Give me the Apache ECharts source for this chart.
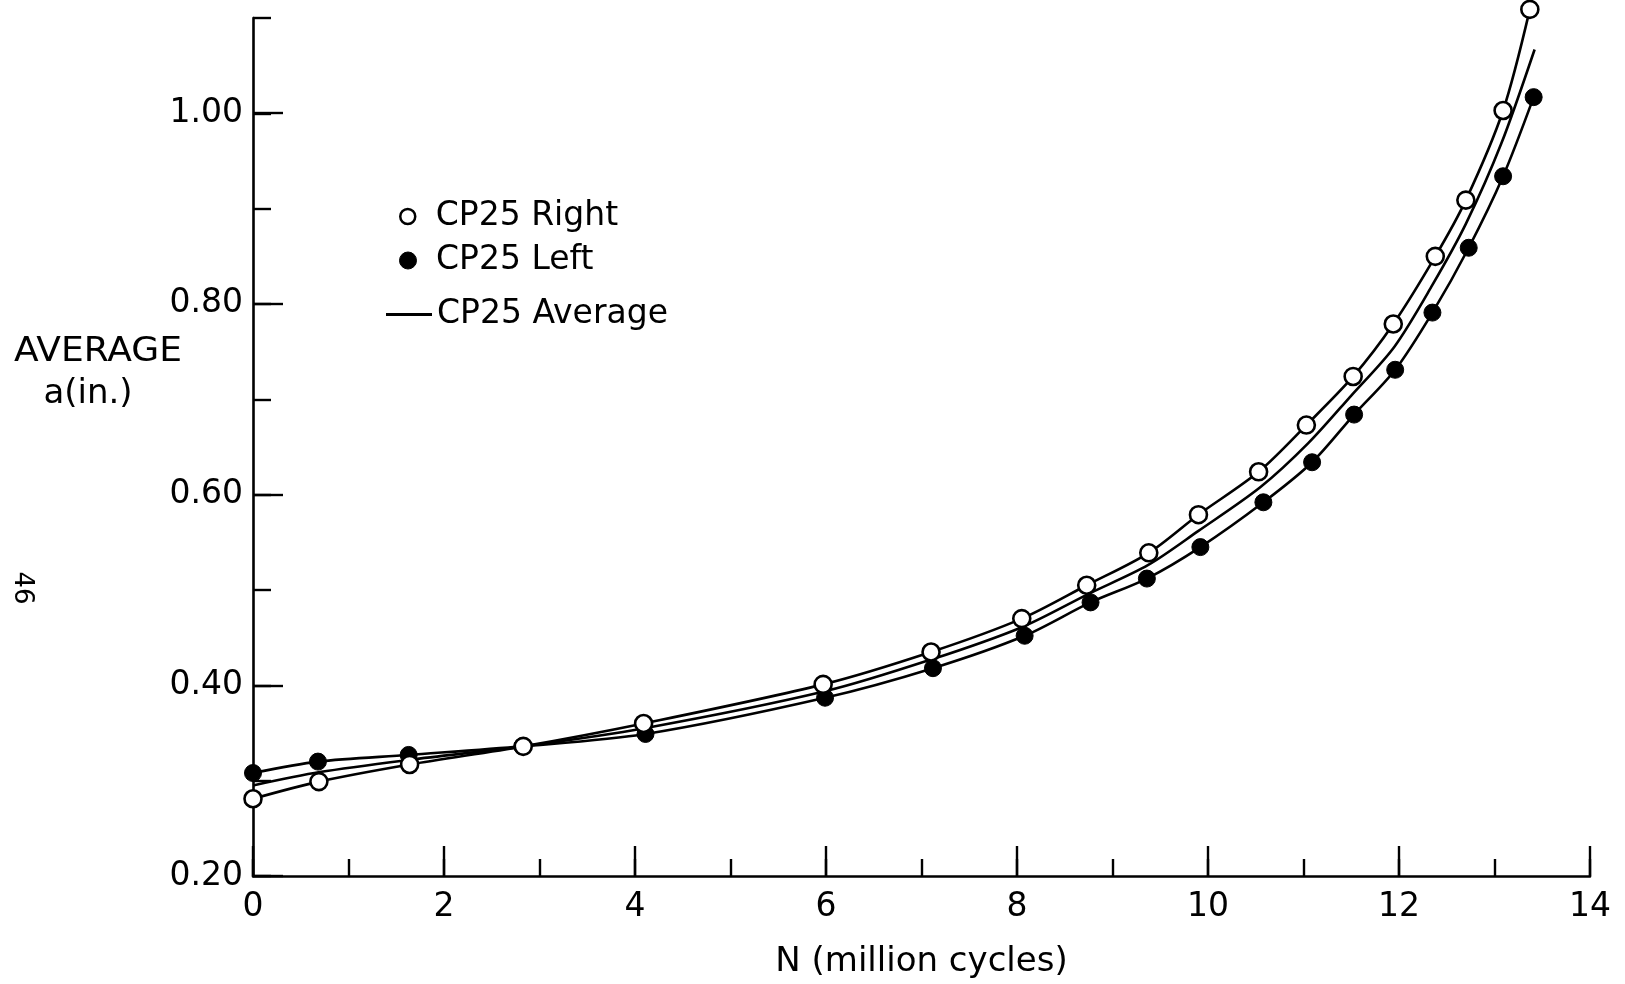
<!DOCTYPE html>
<html><head><meta charset="utf-8">
<script src="https://cdn.jsdelivr.net/npm/echarts@6/dist/echarts.min.js"></script>
<style>html,body{margin:0;padding:0;background:#fff}#c{width:1625px;height:984px}</style>
</head><body><div id="c"></div>
<script>
// N (million cycles) and a (in.)
const rightN = [0, 0.69, 1.64, 2.83, 4.09, 5.97, 7.10, 8.05, 8.73, 9.38, 9.90, 10.53, 11.03, 11.52, 11.94, 12.38, 12.70, 13.09, 13.37];
const rightA = [0.281, 0.299, 0.317, 0.336, 0.360, 0.401, 0.435, 0.470, 0.505, 0.539, 0.579, 0.624, 0.673, 0.724, 0.779, 0.850, 0.909, 1.003, 1.109];
const leftN  = [0, 0.68, 1.63, 2.82, 4.11, 5.99, 7.12, 8.08, 8.77, 9.36, 9.92, 10.58, 11.09, 11.53, 11.96, 12.35, 12.73, 13.09, 13.41];
const leftA  = [0.308, 0.320, 0.327, 0.336, 0.349, 0.387, 0.418, 0.452, 0.487, 0.512, 0.545, 0.592, 0.634, 0.684, 0.731, 0.791, 0.859, 0.934, 1.017];
const avgN   = [0, 0.70, 1.65, 2.83, 4.10, 6.00, 7.10, 8.05, 8.75, 9.37, 9.90, 10.55, 11.05, 11.50, 11.95, 12.35, 12.70, 13.07, 13.42];
const avgA   = [0.295, 0.309, 0.322, 0.336, 0.355, 0.394, 0.427, 0.461, 0.496, 0.526, 0.562, 0.608, 0.654, 0.704, 0.755, 0.820, 0.884, 0.968, 1.067];
const xTickValues = [0, 2, 4, 6, 8, 10, 12, 14];
const xTickLabels = ['0', '2', '4', '6', '8', '10', '12', '14'];
const yTickValues = [0.2, 0.4, 0.6, 0.8, 1.0];
const yTickLabels = ['0.20', '0.40', '0.60', '0.80', '1.00'];

const FONT = 'DejaVu Sans';
const pairs = (xs, ys) => xs.map((x, i) => [x, ys[i]]);
const lookup = (vals, labels) => v => {
  const i = vals.findIndex(t => Math.abs(t - v) < 1e-6);
  return i >= 0 ? labels[i] : '';
};

const chart = echarts.init(document.getElementById('c'), null, {renderer: 'canvas'});
const G = {left: 253, right: 35, bottom: 108};
const axisLine = {show: true, lineStyle: {color: '#000', width: 2.6}};
const legendText = {fontFamily: FONT, fontSize: 33, color: '#000'};
chart.setOption({
  backgroundColor: '#fff',
  animation: false,
  grid: [
    Object.assign({top: 18}, G),
    Object.assign({top: 113}, G)
  ],
  xAxis: [
    {type: 'value', gridIndex: 0, min: 0, max: 14, interval: 1, position: 'bottom',
     axisLine: axisLine, splitLine: {show: false}, axisLabel: {show: false},
     axisTick: {show: true, inside: true, length: 17, lineStyle: {color: '#000', width: 2.4}},
     name: 'N (million cycles)', nameLocation: 'middle', nameGap: 69,
     nameTextStyle: {fontFamily: FONT, fontSize: 34, color: '#000'}},
    {type: 'value', gridIndex: 0, min: 0, max: 14, interval: 2, position: 'bottom',
     axisLine: {show: false}, splitLine: {show: false},
     axisTick: {show: true, inside: true, length: 30, lineStyle: {color: '#000', width: 2.4}},
     axisLabel: {show: true, margin: 15, fontFamily: FONT, fontSize: 33, color: '#000',
                 formatter: lookup(xTickValues, xTickLabels)}},
    {type: 'value', gridIndex: 1, min: 0, max: 14, show: false}
  ],
  yAxis: [
    {type: 'value', gridIndex: 0, min: 0.2, max: 1.1, interval: 0.1,
     axisLine: axisLine, splitLine: {show: false}, axisLabel: {show: false},
     axisTick: {show: true, inside: true, length: 18, lineStyle: {color: '#000', width: 2.4}}},
    {type: 'value', gridIndex: 1, min: 0.2, max: 1.0, interval: 0.2,
     axisLine: {show: false}, splitLine: {show: false},
     axisTick: {show: true, inside: true, length: 30, lineStyle: {color: '#000', width: 2.4}},
     axisLabel: {show: true, margin: 10, fontFamily: FONT, fontSize: 33, color: '#000',
                 formatter: lookup(yTickValues, yTickLabels)}}
  ],
  legend: [
    {data: [{name: 'CP25 Right', icon: 'circle', itemStyle: {color: '#fff', borderColor: '#000', borderWidth: 2.5}}],
     left: 399, top: 200, padding: 0, itemWidth: 46, itemHeight: 15, itemGap: 0, textStyle: legendText},
    {data: [{name: 'CP25 Left', icon: 'circle', itemStyle: {color: '#000', borderColor: '#000', borderWidth: 1}}],
     left: 399, top: 244, padding: 0, itemWidth: 46, itemHeight: 17, itemGap: 0, textStyle: legendText},
    {data: [{name: 'CP25 Average', icon: 'rect', itemStyle: {color: '#000', borderWidth: 0}}],
     left: 386, top: 298, padding: 0, itemWidth: 46, itemHeight: 3, itemGap: 0, textStyle: legendText}
  ],
  graphic: [
    {type: 'text', x: 98, y: 352, scaleX: 1.06,
     style: {text: 'AVERAGE', fontFamily: FONT, fontSize: 34, fill: '#000', align: 'center', verticalAlign: 'middle'}},
    {type: 'text', x: 88, y: 394,
     style: {text: 'a(in.)', fontFamily: FONT, fontSize: 34, fill: '#000', align: 'center', verticalAlign: 'middle'}},
    {type: 'text', x: 22, y: 588, rotation: -Math.PI / 2,
     style: {text: '46', fontFamily: FONT, fontSize: 26, fill: '#000', align: 'center', verticalAlign: 'middle'}}
  ],
  series: [
    {name: 'CP25 Average', type: 'line', xAxisIndex: 0, yAxisIndex: 0, data: pairs(avgN, avgA),
     smooth: 0.3, symbol: 'none', clip: false, z: 2,
     lineStyle: {color: '#000', width: 2.6}},
    {name: 'CP25 Left', type: 'line', xAxisIndex: 0, yAxisIndex: 0, data: pairs(leftN, leftA),
     smooth: 0.3, symbol: 'circle', symbolSize: 17, showAllSymbol: true, clip: false, z: 3,
     lineStyle: {color: '#000', width: 2.6},
     itemStyle: {color: '#000', borderColor: '#000', borderWidth: 1}},
    {name: 'CP25 Right', type: 'line', xAxisIndex: 0, yAxisIndex: 0, data: pairs(rightN, rightA),
     smooth: 0.3, symbol: 'circle', symbolSize: 17, showAllSymbol: true, clip: false, z: 4,
     lineStyle: {color: '#000', width: 2.6},
     itemStyle: {color: '#fff', borderColor: '#000', borderWidth: 2.6}}
  ]
});
</script>
</body></html>
